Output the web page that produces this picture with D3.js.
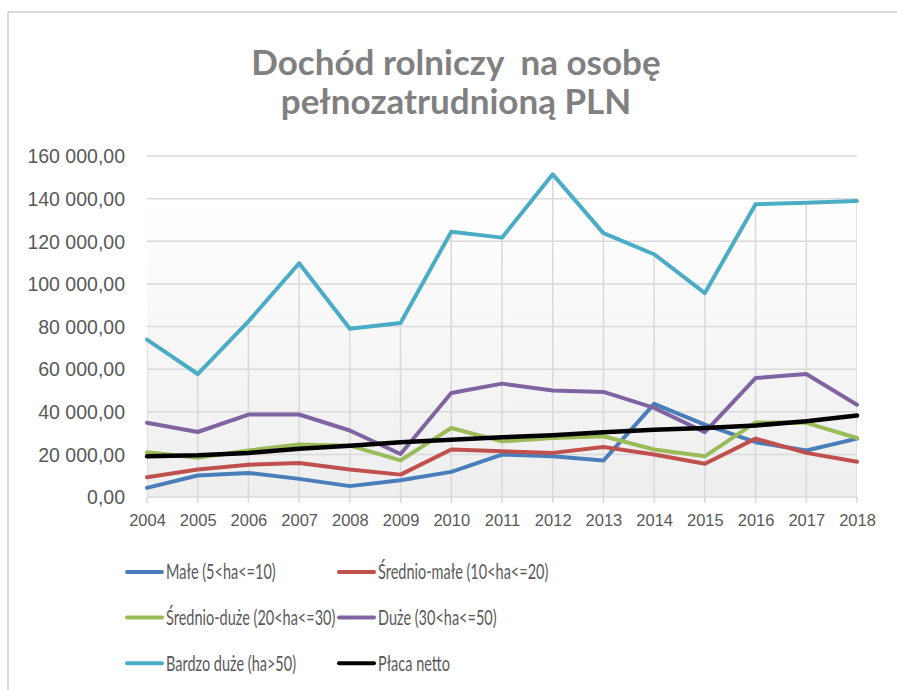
<!DOCTYPE html>
<html>
<head>
<meta charset="utf-8">
<script src="https://cdn.jsdelivr.net/npm/d3@7"></script>
<style>
  body { margin: 0; background: #fff; }
  svg { display: block; font-family: Lato, "Open Sans", sans-serif; }
</style>
</head>
<body>
<svg id="chart"></svg>
<script>
const years = [2004, 2005, 2006, 2007, 2008, 2009, 2010, 2011, 2012, 2013, 2014, 2015, 2016, 2017, 2018];
const yTicks = [0, 20000, 40000, 60000, 80000, 100000, 120000, 140000, 160000];

const male = [4300, 10100, 11300, 8500, 5100, 7900, 11800, 19900, 19100, 17100, 43700, 34000, 25700, 21800, 27400];
const srednioMale = [9300, 12900, 15100, 16000, 12900, 10500, 22300, 21500, 20700, 23500, 19900, 15600, 27400, 20700, 16500];
const srednioDuze = [21000, 18400, 21800, 24600, 24100, 17200, 32400, 26100, 27700, 28500, 22300, 19100, 35000, 34800, 27700];
const duze = [34800, 30500, 38700, 38700, 31200, 20200, 48800, 53200, 50000, 49300, 41800, 30400, 55800, 57700, 43300];
const bardzoDuze = [73800, 57700, 82400, 109700, 78900, 81600, 124500, 121700, 151400, 123800, 113900, 95700, 137400, 138100, 138900];
const placaNetto = [19100, 19600, 20700, 22600, 24100, 25700, 26900, 28000, 29000, 30400, 31600, 32400, 33600, 35500, 38200];

const seriesNames = ['Małe (5<ha<=10)', 'Średnio-małe (10<ha<=20)', 'Średnio-duże (20<ha<=30)',
                     'Duże (30<ha<=50)', 'Bardzo duże (ha>50)', 'Płaca netto'];
const seriesValues = [male, srednioMale, srednioDuze, duze, bardzoDuze, placaNetto];
const seriesColors = ['#4a7ebb', '#c0504d', '#9bbb59', '#8064a2', '#4bacc6', '#000000'];

const width = 897, height = 690;
const margin = {top: 156, right: 40, bottom: 193, left: 147};

const svg = d3.select('#chart')
    .attr('width', width)
    .attr('height', height);

// chart frame (only top/left visible in the picture)
svg.append('line').attr('x1', 8).attr('x2', width).attr('y1', 12).attr('y2', 12)
    .attr('stroke', '#d9d9d9').attr('stroke-width', 2);
svg.append('line').attr('x1', 8).attr('x2', 8).attr('y1', 12).attr('y2', height)
    .attr('stroke', '#d9d9d9').attr('stroke-width', 2);

// title
const title = svg.append('text')
    .attr('text-anchor', 'middle')
    .attr('fill', '#808080')
    .attr('xml:space', 'preserve')
    .style('white-space', 'pre')
    .style('font-size', '35px')
    .style('font-weight', 'bold');
title.append('tspan').attr('x', 456).attr('y', 75).text('Dochód rolniczy  na osobę');
title.append('tspan').attr('x', 456).attr('y', 114).text('pełnozatrudnioną PLN');

const x = d3.scalePoint()
    .domain(years)
    .range([margin.left, width - margin.right]);

const y = d3.scaleLinear()
    .domain([0, 160000])
    .range([height - margin.bottom, margin.top]);

const defs = svg.append('defs');

// plot background gradient
const grad = defs.append('linearGradient')
    .attr('id', 'bg').attr('x1', 0).attr('x2', 0).attr('y1', 0).attr('y2', 1);
grad.append('stop').attr('offset', '0%').attr('stop-color', '#ffffff');
grad.append('stop').attr('offset', '100%').attr('stop-color', '#eeeeee');

svg.append('rect')
    .attr('x', margin.left)
    .attr('y', y(140000))
    .attr('width', x(2018) - x(2004))
    .attr('height', y(0) - y(140000))
    .attr('fill', 'url(#bg)');

// vertical grid only shows below the "Bardzo duże" line
const area = d3.area()
    .x((d, i) => x(years[i]))
    .y0(y(0))
    .y1(d => y(d));
defs.append('clipPath').attr('id', 'below')
    .append('path').attr('d', area(bardzoDuze));

svg.append('g').attr('clip-path', 'url(#below)').selectAll('line')
    .data(years).enter()
    .append('line')
    .attr('x1', d => x(d)).attr('x2', d => x(d))
    .attr('y1', y(160000)).attr('y2', y(0))
    .attr('stroke', '#d9d9d9').attr('stroke-width', 1.5);

// small ticks under the x axis
svg.append('g').selectAll('line')
    .data(years).enter()
    .append('line')
    .attr('x1', d => x(d)).attr('x2', d => x(d))
    .attr('y1', y(0)).attr('y2', y(0) + 6)
    .attr('stroke', '#d9d9d9').attr('stroke-width', 1.5);

svg.append('g').selectAll('line')
    .data(yTicks).enter()
    .append('line')
    .attr('x1', x(2004)).attr('x2', x(2018))
    .attr('y1', d => y(d)).attr('y2', d => y(d))
    .attr('stroke', '#d9d9d9').attr('stroke-width', 1.5);

// axes
const fmt = d => {
    const s = d3.format(',.2f')(d);
    return s.replace(/,/g, ' ').replace('.', ',');
};

const yAxis = svg.append('g')
    .attr('transform', `translate(${margin.left - 19},0)`)
    .call(d3.axisLeft(y).tickValues(yTicks).tickFormat(fmt).tickSize(0));
yAxis.select('.domain').remove();
yAxis.selectAll('text')
    .attr('fill', '#595959')
    .style('font-size', '19.5px')
    .attr('dy', '0.35em');

const xAxis = svg.append('g')
    .attr('transform', `translate(0,${y(0) + 14})`)
    .call(d3.axisBottom(x).tickSize(0));
xAxis.select('.domain').remove();
xAxis.selectAll('text')
    .attr('fill', '#595959')
    .style('font-size', '16.5px');

// lines
const line = d3.line()
    .x((d, i) => x(years[i]))
    .y(d => y(d));

svg.append('g').selectAll('path')
    .data(seriesValues).enter()
    .append('path')
    .attr('d', d => line(d))
    .attr('fill', 'none')
    .attr('stroke', (d, i) => seriesColors[i])
    .attr('stroke-width', (d, i) => i === 5 ? 4.5 : 4)
    .attr('stroke-linejoin', 'round')
    .attr('stroke-linecap', 'round');

// legend (text is narrow in the original, so squeeze it)
const legend = svg.append('g').selectAll('g')
    .data(seriesNames).enter()
    .append('g')
    .attr('transform', (d, i) => `translate(${i % 2 === 0 ? 127 : 339},${572 + Math.floor(i / 2) * 45.6})`);

legend.append('line')
    .attr('x1', 0).attr('x2', 35)
    .attr('stroke', (d, i) => seriesColors[i])
    .attr('stroke-width', 4)
    .attr('stroke-linecap', 'round');

legend.append('text')
    .attr('transform', 'translate(39,0) scale(0.69,1)')
    .attr('dy', '0.35em')
    .attr('fill', '#595959')
    .style('font-size', '21px')
    .text(d => d);
</script>
</body>
</html>
